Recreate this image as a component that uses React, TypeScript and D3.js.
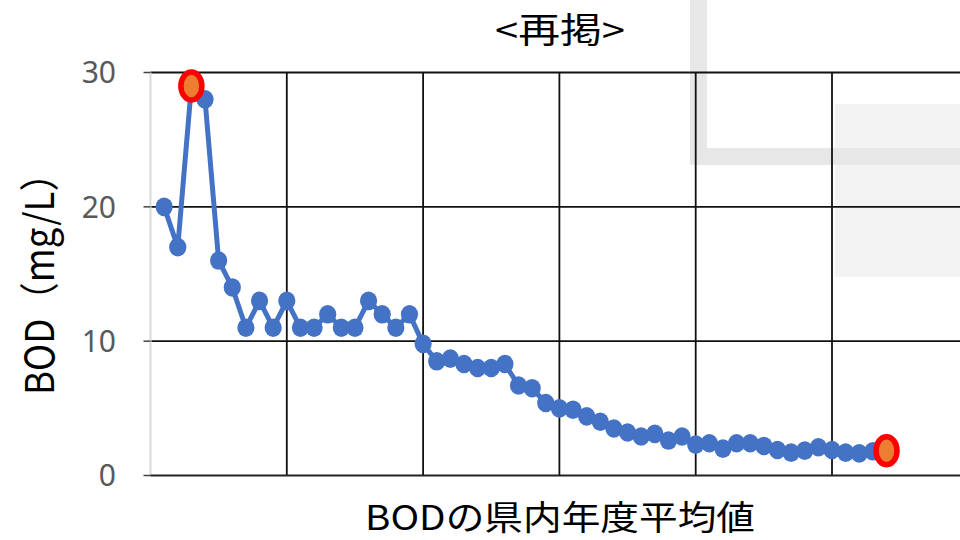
import React from 'react';
import * as d3 from 'd3';

const years = [
  1970, 1971, 1972, 1973, 1974, 1975, 1976, 1977, 1978, 1979,
  1980, 1981, 1982, 1983, 1984, 1985, 1986, 1987, 1988, 1989,
  1990, 1991, 1992, 1993, 1994, 1995, 1996, 1997, 1998, 1999,
  2000, 2001, 2002, 2003, 2004, 2005, 2006, 2007, 2008, 2009,
  2010, 2011, 2012, 2013, 2014, 2015, 2016, 2017, 2018, 2019,
  2020, 2021, 2022, 2023,
];

const bodValues = [
  20, 17, 29, 28, 16, 14, 11, 13, 11, 13,
  11, 11, 12, 11, 11, 13, 12, 11, 12, 9.8,
  8.5, 8.7, 8.3, 8.0, 8.0, 8.3, 6.7, 6.5, 5.4, 5.0,
  4.9, 4.4, 4.0, 3.5, 3.2, 2.9, 3.1, 2.6, 2.9, 2.3,
  2.4, 2.0, 2.4, 2.4, 2.2, 1.9, 1.7, 1.85, 2.1, 1.9,
  1.7, 1.65, 1.8, 1.85,
];

const highlightYears = [1972, 2023];
const yTicks = [0, 10, 20, 30];
const yTickLabels = ['0', '10', '20', '30'];
const xGridYears = [1979, 1989, 1999, 2009, 2019];

const titleText = '<再掲>';
const yAxisTitle = 'BOD（mg/L）';
const bottomText = 'BODの県内年度平均値';

export default function App() {
  const W = 960;
  const H = 540;
  const x = d3.scaleLinear().domain([1969, 2029]).range([150.5, 968.3]);
  const y = d3.scaleLinear().domain([0, 30]).range([475.5, 72.5]);
  const data = years.map((yr, i) => ({ yr, v: bodValues[i] }));
  const line = d3
    .line<{ yr: number; v: number }>()
    .x((d) => x(d.yr))
    .y((d) => y(d.v));
  const highlights = data.filter((d) => highlightYears.includes(d.yr));
  const cjk = '"Noto Sans CJK JP", "Noto Sans", sans-serif';
  const [x0, x1] = [x(1969), W];

  return (
    <svg
      width={W}
      height={H}
      viewBox={`0 0 ${W} ${H}`}
      style={{ position: 'absolute', left: 0, top: 0, display: 'block', background: '#fff' }}
    >
      {/* faint background shapes */}
      <rect x={835} y={104} width={125} height={173} fill="#f3f3f3" />
      <rect x={690} y={0} width={17} height={165} fill="#e7e7e7" />
      <rect x={690} y={148} width={270} height={17} fill="#e7e7e7" />

      {/* horizontal gridlines */}
      {yTicks.filter((t) => t > 0).map((t) => (
        <line key={t} x1={x0} x2={x1} y1={y(t)} y2={y(t)} stroke="#111" strokeWidth={1.8} />
      ))}
      {/* vertical gridlines */}
      {xGridYears.map((g) => (
        <line key={g} x1={x(g)} x2={x(g)} y1={y(30)} y2={y(0)} stroke="#111" strokeWidth={1.8} />
      ))}
      {/* left axis */}
      <line x1={x0} x2={x0} y1={y(30)} y2={y(0)} stroke="#d9d9d9" strokeWidth={2} />
      {yTicks.map((t) => (
        <line key={'tk' + t} x1={x0 - 7} x2={x0} y1={y(t)} y2={y(t)} stroke="#404040" strokeWidth={1.5} />
      ))}
      {/* bottom axis */}
      <line x1={x0} x2={x1} y1={y(0)} y2={y(0)} stroke="#222" strokeWidth={2} />

      {/* tick labels */}
      {yTicks.map((t, i) => (
        <text
          key={'lb' + t}
          x={116}
          y={y(t)}
          dy="0.36em"
          textAnchor="end"
          fontFamily='"Noto Sans", sans-serif'
          fontSize={30}
          fill="#595959"
        >
          {yTickLabels[i]}
        </text>
      ))}

      {/* series line */}
      <path d={line(data) || ''} fill="none" stroke="#4472C4" strokeWidth={5} strokeLinejoin="round" />
      {data.map((d) => (
        <ellipse key={d.yr} cx={x(d.yr)} cy={y(d.v)} rx={8.6} ry={9.3} fill="#4472C4" />
      ))}
      {highlights.map((d) => (
        <ellipse
          key={'h' + d.yr}
          cx={x(d.yr)}
          cy={y(d.v)}
          rx={10.5}
          ry={14}
          fill="#ED7D31"
          stroke="#FF0000"
          strokeWidth={5.5}
        />
      ))}

      {/* texts */}
      <text
        x={560}
        y={43}
        textAnchor="middle"
        fontFamily={cjk}
        fontSize={35}
        fill="#000"
        textLength={130}
        lengthAdjust="spacingAndGlyphs"
      >
        {titleText}
      </text>
      <text
        transform="translate(54,275) rotate(-90)"
        textAnchor="middle"
        fontFamily={cjk}
        fontSize={40}
        fill="#000"
        textLength={240}
        lengthAdjust="spacingAndGlyphs"
      >
        {yAxisTitle}
      </text>
      <text
        x={560}
        y={530}
        textAnchor="middle"
        fontFamily={cjk}
        fontSize={34}
        fill="#000"
        textLength={390}
        lengthAdjust="spacingAndGlyphs"
      >
        {bottomText}
      </text>
    </svg>
  );
}
